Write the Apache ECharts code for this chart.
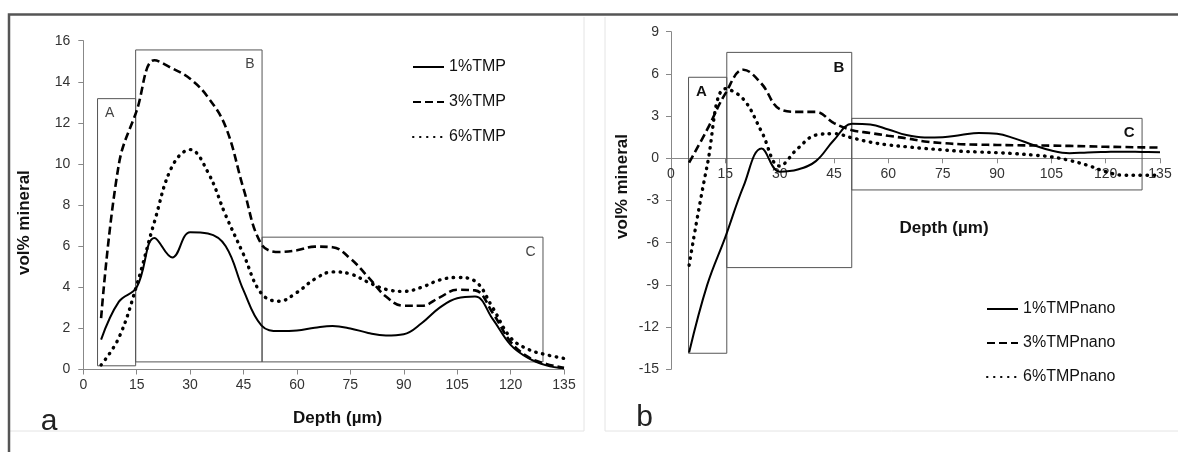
<!DOCTYPE html>
<html>
<head>
<meta charset="utf-8">
<script src="https://cdn.jsdelivr.net/npm/echarts@6/dist/echarts.min.js"></script>
<style>
html,body{margin:0;padding:0;background:#fff;}
#chart{width:1178px;height:452px;}
</style>
</head>
<body>
<div id="chart"></div>
<script>
// ---- data ----
var depth = [5,10,15,20,25,30,35,40,45,50,55,60,65,70,75,80,85,90,95,100,105,110,115,120,125,130,135];

// panel a
var tmp1 = [1.45,3.3,4.0,6.4,5.45,6.68,6.62,6.0,3.85,2.15,1.87,1.9,2.03,2.12,2.0,1.78,1.66,1.72,2.25,3.0,3.47,3.55,2.45,1.2,0.55,0.2,0.06];
var tmp3 = [2.5,10.0,12.6,15.05,14.65,14.15,13.25,11.8,8.8,6.1,5.72,5.8,5.98,5.95,5.4,4.5,3.55,3.1,3.1,3.5,3.88,3.85,2.75,1.35,0.6,0.27,0.08];
var tmp6 = [0.22,1.55,4.1,7.2,9.9,10.7,9.6,7.5,5.6,3.7,3.32,3.75,4.4,4.75,4.65,4.25,3.9,3.8,4.0,4.35,4.48,4.3,3.0,1.55,0.98,0.72,0.54];

// panel b
var nano1 = [-13.8,-9.0,-5.6,-2.0,0.7,-0.95,-0.8,-0.2,1.3,2.45,2.4,2.05,1.65,1.48,1.5,1.65,1.8,1.75,1.4,0.95,0.55,0.36,0.42,0.45,0.47,0.45,0.43];
var nano3 = [-0.3,2.05,4.6,6.3,5.3,3.5,3.3,3.3,2.5,2.0,1.8,1.6,1.42,1.2,1.08,1.0,0.97,0.95,0.93,0.91,0.9,0.88,0.85,0.82,0.8,0.78,0.76];
var nano6 = [-7.6,-0.5,4.95,4.2,1.9,-0.55,0.7,1.65,1.75,1.45,1.15,0.95,0.82,0.7,0.6,0.5,0.45,0.4,0.33,0.23,0.1,-0.15,-0.5,-0.95,-1.2,-1.2,-1.2];

var namesA = ['1%TMP','3%TMP','6%TMP'];
var namesB = ['1%TMPnano','3%TMPnano','6%TMPnano'];

// region boxes [label, x1, y1, x2, y2]
var boxesA = [['A',4.0,0.18,14.7,13.18],['B',14.7,0.37,50.2,15.55],['C',50.2,0.37,129.1,6.44]];
var boxesB = [['A',4.84,-13.86,15.4,5.76],['B',15.4,-7.77,49.9,7.53],['C',49.9,-2.25,130.05,2.84]];

// ---- build ----
function pairs(ys){ return depth.map(function(x,i){ return [x, ys[i]]; }); }
var FONT = 'Liberation Sans, Arial, sans-serif';
var styles = [
  {type:'solid', width:2, cap:'butt'},
  {type:[8,4], width:2.6, cap:'butt'},
  {type:[0.5,6.5], width:3.4, cap:'round'}
];
function boxArea(boxes, bold, fs){
  return {
    silent:true,
    itemStyle:{color:'rgba(0,0,0,0)', borderColor:'#555', borderWidth:1},
    data: boxes.map(function(b){
      return [{name:b[0], xAxis:b[1], yAxis:b[2],
               label:{position: b[0]==='A' ? 'insideTopLeft' : 'insideTopRight'}},
              {xAxis:b[3], yAxis:b[4]}];
    }),
    label:{show:true, color: bold ? '#111' : '#444', fontFamily:FONT, fontSize:fs,
           fontWeight: bold ? 'bold':'normal', distance:8}
  };
}
function mkSeries(name, ys, idx, gi, area){
  var s = {
    name:name, type:'line', xAxisIndex:gi, yAxisIndex:gi,
    data:pairs(ys), smooth:0.4, symbol:'none', showSymbol:false,
    lineStyle:{color:'#000', width:styles[idx].width, type:styles[idx].type, cap:styles[idx].cap},
    itemStyle:{color:'#000'}, z:3
  };
  if(area) s.markArea = area;
  return s;
}

var series = [
  mkSeries(namesA[0], tmp1, 0, 0, boxArea(boxesA,false,14)),
  mkSeries(namesA[1], tmp3, 1, 0),
  mkSeries(namesA[2], tmp6, 2, 0),
  mkSeries(namesB[0], nano1, 0, 1, boxArea(boxesB,true,15)),
  mkSeries(namesB[1], nano3, 1, 1),
  mkSeries(namesB[2], nano6, 2, 1)
];

function axisTick(){ return {show:true, length:5, inside:false, lineStyle:{color:'#888'}}; }
function tickLabel(extra){ var o = {color:'#333', fontFamily:FONT, fontSize:14}; for(var k in extra) o[k]=extra[k]; return o; }
function nameStyle(pad){ return {color:'#111', fontFamily:FONT, fontSize:17, fontWeight:'bold', padding:pad}; }

// panel b plot area; its x axis is drawn at the zero line via an upper helper grid
var bLeft = 671, bRight = 1178-1160, bTop = 31.7, bBottom = 452-369.3;
var bZeroY = 158.3; // pixel of y=0 on the -15..9 scale

var option = {
  animation:false,
  backgroundColor:'#fff',
  grid:[
    {left:83.3, right:1178-564, top:40.7, bottom:452-369.5, containLabel:false},
    {left:bLeft, right:bRight, top:bTop, bottom:bBottom, containLabel:false},
    {left:bLeft, right:bRight, top:bTop, bottom:452-bZeroY, containLabel:false}
  ],
  xAxis:[
    {gridIndex:0, type:'value', min:0, max:135, interval:15, splitLine:{show:false},
     axisLine:{show:true, onZero:true, lineStyle:{color:'#888', width:1}}, axisTick:axisTick(),
     axisLabel:tickLabel({margin:9, showMinLabel:true, showMaxLabel:true}),
     name:'Depth (\u00b5m)', nameLocation:'middle', nameGap:40,
     nameTextStyle:nameStyle([0,0,0,28])},
    {gridIndex:1, type:'value', min:0, max:135, interval:15, show:false, splitLine:{show:false}},
    {gridIndex:2, type:'value', min:0, max:135, interval:15, splitLine:{show:false},
     axisLine:{show:true, lineStyle:{color:'#888', width:1}}, axisTick:axisTick(),
     axisLabel:tickLabel({margin:9, showMinLabel:true, showMaxLabel:true}),
     name:'Depth (\u00b5m)', nameLocation:'middle', nameGap:62,
     nameTextStyle:nameStyle([0,0,0,57])}
  ],
  yAxis:[
    {gridIndex:0, type:'value', min:0, max:16, interval:2, splitLine:{show:false},
     axisLine:{show:true, onZero:false, lineStyle:{color:'#888'}}, axisTick:axisTick(),
     axisLabel:tickLabel({margin:13}),
     name:'vol% mineral', nameLocation:'middle', nameGap:50,
     nameTextStyle:nameStyle([0,35,0,0])},
    {gridIndex:1, type:'value', min:-15, max:9, interval:3, splitLine:{show:false},
     axisLine:{show:true, onZero:false, lineStyle:{color:'#888'}}, axisTick:axisTick(),
     axisLabel:tickLabel({margin:12}),
     name:'vol% mineral', nameLocation:'middle', nameGap:40,
     nameTextStyle:nameStyle([0,0,0,28])},
    {gridIndex:2, type:'value', min:0, max:1, show:false, splitLine:{show:false}}
  ],
  legend:[
    {data:namesA, orient:'vertical', left:407, top:54, itemWidth:31, itemHeight:16, itemGap:19,
     itemStyle:{opacity:0}, textStyle:{color:'#111', fontFamily:FONT, fontSize:16}, selectedMode:false},
    {data:namesB, orient:'vertical', left:981, top:296, itemWidth:31, itemHeight:16, itemGap:18,
     itemStyle:{opacity:0}, textStyle:{color:'#111', fontFamily:FONT, fontSize:16}, selectedMode:false}
  ],
  graphic:[
    {type:'polyline', silent:true, shape:{points:[[10,431],[584,431],[584,17]]}, style:{stroke:'#e4e4e4', fill:null, lineWidth:1}},
    {type:'polyline', silent:true, shape:{points:[[605,17],[605,431],[1178,431]]}, style:{stroke:'#e4e4e4', fill:null, lineWidth:1}},
    {type:'polyline', silent:true, shape:{points:[[9,452],[9,14.5],[1178,14.5]]}, style:{stroke:'#555', fill:null, lineWidth:2.5}},
    {type:'text', silent:true, x:49, y:422, style:{text:'a', fill:'#222', font:'30px ' + FONT, align:'center', verticalAlign:'middle'}},
    {type:'text', silent:true, x:644.5, y:418, style:{text:'b', fill:'#222', font:'30px ' + FONT, align:'center', verticalAlign:'middle'}}
  ],
  series:series
};
var chart = echarts.init(document.getElementById('chart'), null, {renderer:'canvas'});
chart.setOption(option);
</script>
</body>
</html>
